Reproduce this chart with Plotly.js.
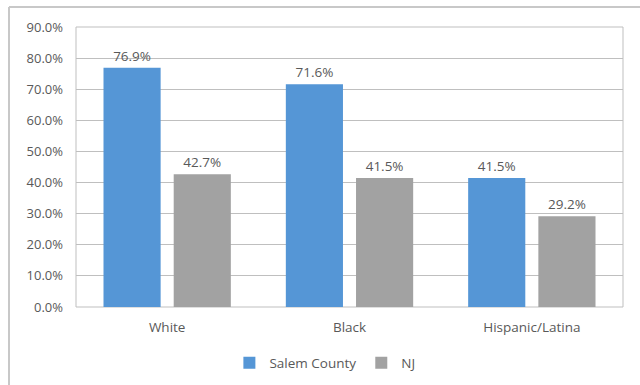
<!DOCTYPE html>
<html>
<head>
<meta charset="utf-8">
<script src="https://cdn.plot.ly/plotly-3.0.1.min.js"></script>
<style>html,body{margin:0;padding:0;background:#fff}#chart{width:640px;height:385px}</style>
</head>
<body>
<div id="chart"></div>
<script>
const categories = ["White", "Black", "Hispanic/Latina"];
const salemCounty = [0.769, 0.716, 0.415];
const nj = [0.427, 0.415, 0.292];
const seriesNames = ["Salem County", "NJ"];
const yTickVals = [0, 0.1, 0.2, 0.3, 0.4, 0.5, 0.6, 0.7, 0.8, 0.9];

const fontFam = '"Open Sans", "Noto Sans", sans-serif';
const textColor = '#595959';

const fmt = v => (v * 100).toFixed(1) + '%';

const traces = [
  {
    type: 'bar', name: seriesNames[0], x: categories, y: salemCounty,
    marker: {color: '#5596d6'},
    text: salemCounty.map(fmt), textposition: 'outside', cliponaxis: false,
    textfont: {family: fontFam, size: 13.5, color: textColor}
  },
  {
    type: 'bar', name: seriesNames[1], x: categories, y: nj,
    marker: {color: '#a2a2a2'},
    text: nj.map(fmt), textposition: 'outside', cliponaxis: false,
    textfont: {family: fontFam, size: 13.5, color: textColor}
  }
];

const layout = {
  width: 640, height: 385,
  margin: {l: 76, r: 17, t: 27, b: 78, autoexpand: false},
  paper_bgcolor: '#ffffff', plot_bgcolor: '#ffffff',
  font: {family: fontFam, size: 13, color: textColor},
  barmode: 'group', bargap: 0.23, bargroupgap: 0.186,
  showlegend: true,
  legend: {orientation: 'h', x: 0.455, xanchor: 'center', y: -0.2, yanchor: 'middle',
           font: {family: fontFam, size: 13.5, color: textColor}, itemwidth: 30, traceorder: 'normal'},
  xaxis: {showgrid: false, zeroline: false, showline: false, ticks: '',
          ticklabelstandoff: 10, tickfont: {family: fontFam, size: 13.5, color: textColor}},
  yaxis: {range: [0, 0.9], tickvals: yTickVals, tickformat: '.1%',
          showgrid: true, gridcolor: '#bfbfbf', gridwidth: 1, zeroline: false,
          showline: false, ticks: '', ticklabelstandoff: 12,
          tickfont: {family: fontFam, size: 13, color: textColor}},
  shapes: [
    {type: 'rect', xref: 'paper', yref: 'paper', x0: 0, x1: 1, y0: 0, y1: 1,
     line: {color: '#bfbfbf', width: 1}, fillcolor: 'rgba(0,0,0,0)', layer: 'below'},
    {type: 'line', xref: 'paper', yref: 'paper', x0: -0.1225, x1: 1.1, y0: 1.0714, y1: 1.0714,
     line: {color: '#c8c8c8', width: 2}},
    {type: 'line', xref: 'paper', yref: 'paper', x0: -0.1225, x1: -0.1225, y0: -0.3, y1: 1.0714,
     line: {color: '#c8c8c8', width: 2}}
  ]
};

Plotly.newPlot('chart', traces, layout, {displayModeBar: false, staticPlot: true});
</script>
</body>
</html>
